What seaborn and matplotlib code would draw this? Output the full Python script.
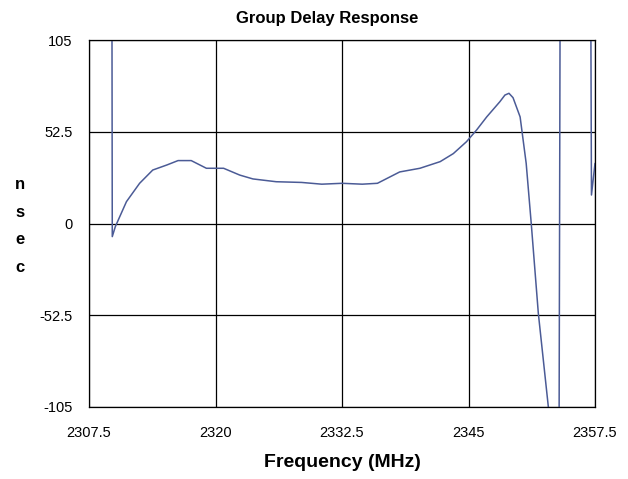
#!/usr/bin/env python3
# -*- coding: utf-8 -*-

"""
Group delay response plot (recreated).
"""

import matplotlib
matplotlib.use('Agg')
import matplotlib.pyplot as plt
import seaborn as sns
import pandas as pd

# Data (MHz, nsec)
freq_mhz = [2309.70, 2309.80, 2310.1, 2311.2, 2312.5, 2313.8, 2315.2, 2316.3,
            2317.6, 2319.1, 2320.8, 2322.4, 2323.7, 2326.0, 2328.5, 2330.5,
            2332.5, 2334.5, 2336.0, 2338.2, 2340.2, 2342.2, 2343.5, 2344.8,
            2345.8, 2346.8, 2348.1, 2348.6, 2349.0, 2349.4, 2350.1, 2350.7,
            2351.2, 2351.9, 2352.9, 2353.3, 2353.75, 2354.25, 2356.8, 2357.15,
            2357.5]
delay_ns = [400, -7.5, -1.8, 12.5, 23.0, 30.6, 33.5, 36.0,
            36.0, 31.6, 31.6, 27.7, 25.5, 23.9, 23.5, 22.5,
            23.0, 22.5, 23.0, 29.5, 31.6, 35.4, 40.0, 46.8,
            53.5, 61.0, 69.7, 73.5, 74.5, 72.0, 61.0, 34.4,
            0.0, -51.4, -105.5, -130, -600, 600, 600, 16.3,
            34.4]

x_ticks = [2307.5, 2320, 2332.5, 2345, 2357.5]
x_tick_labels = ['2307.5', '2320', '2332.5', '2345', '2357.5']
y_ticks = [-105, -52.5, 0, 52.5, 105]
y_tick_labels = ['-105', '-52.5', '0', '52.5', '105']

sns.set_theme(style='white')
plt.rcParams['font.family'] = ['Liberation Sans', 'DejaVu Sans']
plt.rcParams['text.color'] = 'black'
plt.rcParams['axes.labelcolor'] = 'black'

df = pd.DataFrame({'freq': freq_mhz, 'delay': delay_ns})

fig = plt.figure(figsize=(6.28, 4.79), dpi=100)
ax = fig.add_axes([89 / 628, 1 - 407 / 479, (595 - 89) / 628, (407 - 40) / 479])

sns.lineplot(data=df, x='freq', y='delay', ax=ax, color='#4B5B96',
             linewidth=1.1, estimator=None, sort=False)

ax.set_xlim(2307.5, 2357.5)
ax.set_ylim(-105, 105)
ax.set_xticks(x_ticks)
ax.set_xticklabels(x_tick_labels)
ax.set_yticks(y_ticks)
ax.set_yticklabels(y_tick_labels)
ax.tick_params(axis='x', labelsize=10.5, colors='black', length=0, pad=14)
ax.tick_params(axis='y', labelsize=10.5, colors='black', length=0, pad=12)

# Cuadrícula negra
ax.grid(True, color='black', linewidth=0.9)
for s in ax.spines.values():
    s.set_color('black')
    s.set_linewidth(0.9)

ax.set_xlabel('Frequency (MHz)', fontsize=14, fontweight='bold', labelpad=10)
ax.set_ylabel('')

# Etiqueta vertical "nsec", una letra por línea
fig.text(20 / 628, 1 - 226 / 479, 'n\ns\ne\nc', ha='center', va='center',
         fontsize=12, fontweight='bold', linespacing=2.05)

fig.text(327 / 628, 1 - 18 / 479, 'Group Delay Response', ha='center',
         va='center', fontsize=12, fontweight='bold')

fig.savefig('out.png', dpi=100)
plt.close(fig)
